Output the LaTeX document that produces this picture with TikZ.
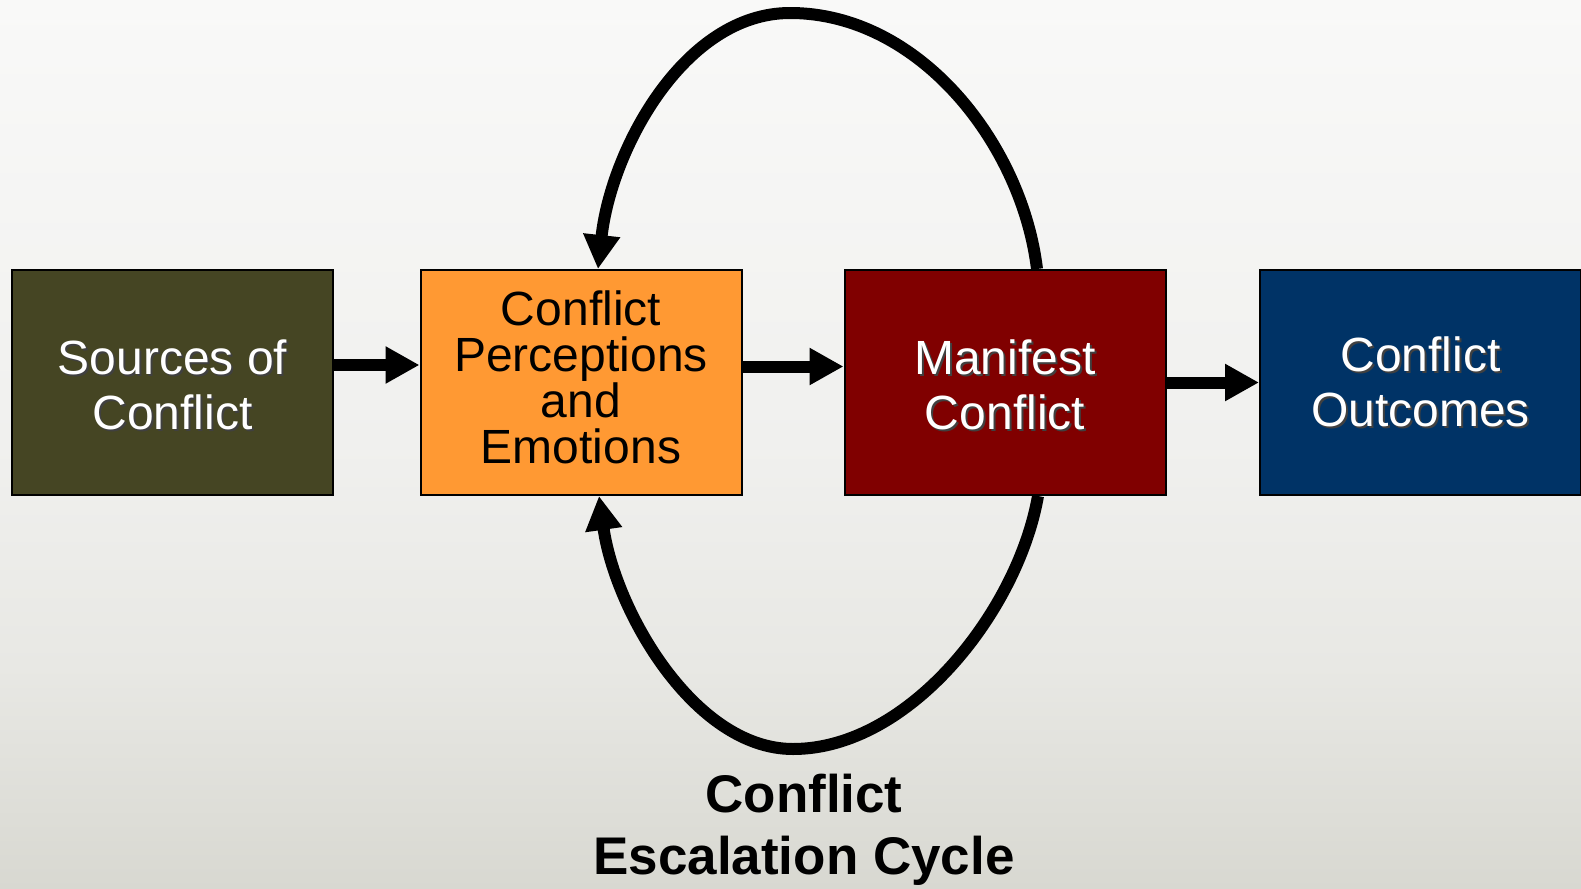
\documentclass[tikz,border=0pt]{standalone}
\usepackage{fontspec}
\setmainfont{Liberation Sans}
\usetikzlibrary{arrows.meta}
\definecolor{srcfill}{HTML}{454523}
\definecolor{percfill}{HTML}{FF9933}
\definecolor{manfill}{HTML}{800000}
\definecolor{outfill}{HTML}{003366}
\definecolor{bgtop}{HTML}{F9F9F8}
\definecolor{bgmid}{HTML}{F0F0EE}
\definecolor{bglow}{HTML}{E8E8E4}
\definecolor{bgbot}{HTML}{D8D8D1}
\pgfdeclareverticalshading{bgshade}{100bp}{color(0bp)=(bgbot); color(25bp)=(bgbot); color(37.5bp)=(bglow); color(50bp)=(bgmid); color(75bp)=(bgtop); color(100bp)=(bgtop)}
\newcommand\shd[1]{\rlap{\kern1pt\raisebox{-1pt}{\textcolor{black!75}{#1}}}#1}
\begin{document}
\begin{tikzpicture}[x=0.5pt,y=-0.5pt,
  box/.style={draw=black, line width=1pt, minimum width=160.5pt, minimum height=112.5pt,
    inner sep=0pt, align=center, font=\fontsize{24}{27.5}\selectfont},
  conn/.style={line width=6pt, -{Triangle[length=17pt,width=17.5pt]}}]
\fill[shading=bgshade] (0,0) rectangle (1581,889);
\useasboundingbox (0,0) rectangle (1581,889);

\node[box, fill=srcfill, text=white] (src) at (172.5,382.5) {\rule{0pt}{20.5pt}\shd{Sources of}\\\shd{Conflict}};
\node[box, fill=percfill, text=black, font=\fontsize{24}{23}\selectfont] (perc) at (581,382.5)
  {Conflict\\Perceptions\\and\\Emotions\rule[-5pt]{0pt}{5pt}};
\node[box, fill=manfill, text=white] (man) at (1005,382.5) {\rule{0pt}{20.5pt}\shd{Manifest}\\\shd{Conflict}};
\node[box, fill=outfill, text=white] (out) at (1420.5,382.5) {\shd{Conflict}\\\shd{Outcomes}};

\node[font=\fontsize{26.5}{31}\selectfont\bfseries, align=center] (title) at (804,830) {Conflict\\Escalation Cycle};

\coordinate (topapex) at (790,13);
\coordinate (botapex) at (793,749);

\draw[conn] ([yshift=8.75pt]src.east) -- ([yshift=8.75pt]perc.west);
\draw[conn] ([yshift=8pt]perc.east) -- ([yshift=8pt]man.west);
\draw[conn] (man.east) -- (out.west);

\draw[conn] ([xshift=16pt]man.north) .. controls (1022,145) and (920,13) .. (topapex)
  .. controls (684,13) and (611,150) .. ([xshift=8.5pt]perc.north);
\draw[conn] ([xshift=16.5pt]man.south) .. controls (1018,610) and (910,749) .. (botapex)
  .. controls (694,749) and (615,610) .. ([xshift=9pt]perc.south);
\end{tikzpicture}
\end{document}
